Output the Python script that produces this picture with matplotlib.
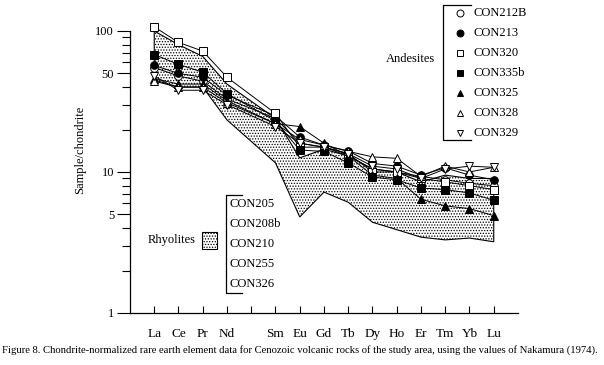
import numpy as np
import matplotlib as mpl
mpl.use('Agg')
import matplotlib.pyplot as plt
from matplotlib.ticker import FixedLocator, NullFormatter, FuncFormatter

mpl.rcParams['font.family'] = ['Liberation Serif', 'DejaVu Serif']
mpl.rcParams['hatch.linewidth'] = 0.6

elements = ['La', 'Ce', 'Pr', 'Nd', '', 'Sm', 'Eu', 'Gd', 'Tb', 'Dy', 'Ho', 'Er', 'Tm', 'Yb', 'Lu']
plotted = ['La', 'Ce', 'Pr', 'Nd', 'Sm', 'Eu', 'Gd', 'Tb', 'Dy', 'Ho', 'Er', 'Tm', 'Yb', 'Lu']

# andesites, chondrite-normalized
con212b = [55, 48, 44, 33, 24, 16, 15, 13, 10.5, 10, 9.3, 8.8, 8.3, 8.0]
con213 = [57, 50, 47, 35, 25, 17.7, 15.5, 14.1, 11.5, 11, 9.5, 10.7, 9.5, 8.8]
con320 = [107, 83, 72, 47, 26, 15, 15, 13.5, 10, 10, 9, 8.5, 8.0, 7.5]
con335b = [68, 58, 51, 36, 23, 14.3, 14, 11.6, 9.2, 8.8, 7.7, 7.5, 7.1, 6.3]
con325 = [46, 42, 42, 32, 22, 21, 16, 13, 9.5, 9, 6.4, 5.75, 5.5, 4.9]
con328 = [44, 40, 40, 31, 22, 17, 15.5, 14, 12.8, 12.5, 9.3, 11, 10, 10.8]
con329 = [48, 38, 38, 30, 21, 16, 15, 13.5, 11, 10.5, 9, 10.5, 11, 10.8]

# rhyolite field envelope
rhy_upper = [100, 80, 66, 42, 24, 12.6, 14.5, 13, 10.5, 10, 8.5, 9.5, 9, 9]
rhy_lower = [45, 40, 40, 23.4, 11.6, 4.8, 7.2, 6.1, 4.4, 3.9, 3.45, 3.3, 3.4, 3.2]
rhy_names = ['CON205', 'CON208b', 'CON210', 'CON255', 'CON326']

xpos = np.array([elements.index(e) + 1 for e in plotted])

fig = plt.figure(figsize=(6.04, 3.65), dpi=100)
ax = fig.add_axes([0.2152, 0.1425, 0.6424, 0.7726])

# stippled rhyolite field
px = np.concatenate([xpos, xpos[::-1]])
py = np.concatenate([rhy_upper, rhy_lower[::-1]])
ax.fill(px, py, facecolor='white', edgecolor='black', hatch='......', lw=0.8, zorder=1)

series = [
    ('CON212B', con212b, 'o', 'white'),
    ('CON213', con213, 'o', 'black'),
    ('CON320', con320, 's', 'white'),
    ('CON335b', con335b, 's', 'black'),
    ('CON325', con325, '^', 'black'),
    ('CON328', con328, '^', 'white'),
    ('CON329', con329, 'v', 'white'),
]
for name, vals, mk, fc in series:
    ax.plot(xpos, vals, color='black', lw=0.7, marker=mk, ms=5.5, mfc=fc, mec='black',
            mew=0.7, clip_on=False, zorder=3)

ax.set_yscale('log')
ax.set_ylim(1, 100)
ax.set_xlim(0, 16)

ax.yaxis.set_major_locator(FixedLocator([1, 5, 10, 50, 100]))
ax.yaxis.set_major_formatter(FuncFormatter(lambda v, p: '%g' % v))
ax.yaxis.set_minor_locator(FixedLocator([2, 3, 4, 6, 7, 8, 9, 20, 30, 40, 60, 70, 80, 90]))
ax.yaxis.set_minor_formatter(NullFormatter())
ax.tick_params(axis='y', which='major', direction='out', length=9.4, width=0.8, labelsize=9, pad=2)
ax.tick_params(axis='y', which='minor', direction='out', length=5.8, width=0.8)

ax.set_xticks(np.arange(1, 16))
ax.set_xticklabels(elements)
ax.tick_params(axis='x', direction='in', length=5, width=0.8, labelsize=9.5, pad=11)

ax.spines['top'].set_visible(False)
ax.spines['right'].set_visible(False)
ax.spines['left'].set_linewidth(0.9)
ax.spines['bottom'].set_linewidth(0.9)

fig.text(80 / 604, 1 - 150 / 365, 'Sample/chondrite', rotation=90, ha='center', va='center', fontsize=9)

# andesite legend (bracket)
W, H = 604.0, 365.0
def fx(x): return x / W
def fy(y): return 1 - y / H

fig.add_artist(plt.Line2D([fx(471), fx(443), fx(443), fx(471)], [fy(5), fy(5), fy(140), fy(140)],
                          color='black', lw=0.9))
for i, (name, vals, mk, fc) in enumerate(series):
    yy = 13 + 20 * i
    fig.add_artist(plt.Line2D([fx(460)], [fy(yy)], marker=mk, ms=5, mfc=fc, mec='black', mew=0.7, ls='none'))
    fig.text(fx(474), fy(yy), name, ha='left', va='center', fontsize=9)
fig.text(fx(410), fy(59), 'Andesites', ha='center', va='center', fontsize=9)

# rhyolite legend
fig.add_artist(plt.Line2D([fx(242), fx(226), fx(226), fx(242)], [fy(195), fy(195), fy(293), fy(293)],
                          color='black', lw=0.9))
for i, name in enumerate(rhy_names):
    fig.text(fx(229), fy(204 + 20 * i), name, ha='left', va='center', fontsize=9)
fig.text(fx(172), fy(240), 'Rhyolites', ha='center', va='center', fontsize=9)
fig.add_artist(plt.Rectangle((fx(202), fy(249)), fx(15), 17 / H, facecolor='white', edgecolor='black',
                             hatch='......', lw=0.8))

fig.text(fx(2), fy(350), 'Figure 8. Chondrite-normalized rare earth element data for Cenozoic volcanic rocks '
         'of the study area, using the values of Nakamura (1974).', ha='left', va='center', fontsize=7.7)

fig.savefig('out.png', dpi=100)
